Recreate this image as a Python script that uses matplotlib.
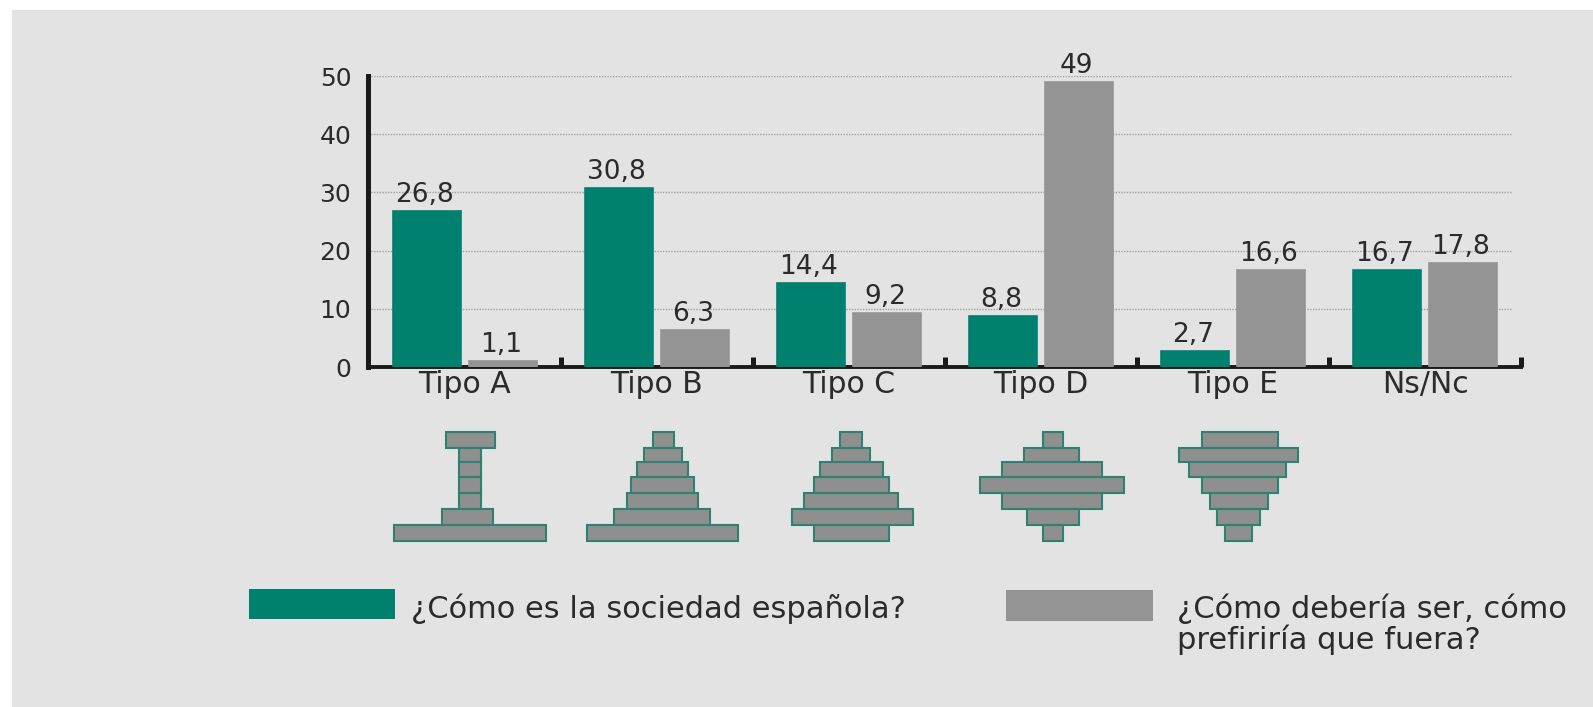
import numpy as np
import matplotlib
matplotlib.use("Agg")
import matplotlib.pyplot as plt
from matplotlib.patches import Rectangle

W, H = 1593, 707

categorias = ["Tipo A", "Tipo B", "Tipo C", "Tipo D", "Tipo E", "Ns/Nc"]
es_sociedad = [26.8, 30.8, 14.4, 8.8, 2.7, 16.7]
deberia_ser = [1.1, 6.3, 9.2, 49, 16.6, 17.8]
ticks_y = [0, 10, 20, 30, 40, 50]
leyenda_1 = "¿Cómo es la sociedad española?"
leyenda_2a = "¿Cómo debería ser, cómo"
leyenda_2b = "prefiriría que fuera?"

# estratos de las pirámides, de arriba abajo: izquierda y derecha en píxeles
piramide_a = [(446, 495), (459, 481), (459, 481), (459, 481), (459, 481), (442, 493), (394, 546)]
piramide_b = [(653, 674), (644, 682), (637, 688), (631, 694), (627, 698), (614, 710), (587, 738)]
piramide_c = [(840, 862), (832, 870), (820, 883), (814, 889), (804, 898), (792, 913), (814, 889)]
piramide_d = [(1043, 1063), (1024, 1079), (1002, 1102), (980, 1124), (1002, 1102), (1027, 1079), (1043, 1063)]
piramide_e = [(1202, 1278), (1179, 1298), (1189, 1286), (1202, 1278), (1210, 1268), (1217, 1260), (1225, 1252)]
cortes_y = [432, 448, 462, 477, 493, 509, 525, 541]

VERDE = "#00806e"
GRIS = "#949494"
FONDO = "#e3e3e3"
TEXTO = "#2b2b2b"
NEGRO = "#1a1a1a"

plt.rcParams["font.family"] = ["DejaVu Sans"]

fig = plt.figure(figsize=(W / 100, H / 100), dpi=100, facecolor="white")

# fondo gris y elementos sueltos en coordenadas de píxel
bg = fig.add_axes([0, 0, 1, 1])
bg.set_xlim(0, W)
bg.set_ylim(H, 0)
bg.axis("off")
bg.add_patch(Rectangle((12, 10), W - 12, H - 10, color=FONDO, lw=0))

# grafico de barras
ax = fig.add_axes([368 / W, 1 - 367 / H, (1521 - 368) / W, (367 - 76) / H])
ax.patch.set_alpha(0)
ax.set_xlim(-0.505, 5.5)
ax.set_ylim(0, 50)

x = np.arange(len(categorias))
ax.bar(x - 0.198, es_sociedad, 0.358, color=VERDE, edgecolor=VERDE, linewidth=1.2, zorder=3)
ax.bar(x + 0.198, deberia_ser, 0.358, color=GRIS, edgecolor=GRIS, linewidth=1.2, zorder=3)


def etiqueta(xpos, valor):
    ax.annotate(str(valor).replace(".", ","), (xpos, valor), xytext=(-1.5, 6.5), textcoords="offset points",
                ha="center", va="baseline", fontsize=19, color=TEXTO, zorder=4)


for i in x:
    etiqueta(i - 0.198, es_sociedad[i])
    etiqueta(i + 0.198, deberia_ser[i])

ax.set_yticks(ticks_y)
ax.set_yticklabels([str(t) for t in ticks_y], fontsize=18, color=TEXTO)
ax.tick_params(axis="y", length=0, pad=12)
ax.set_xticks(x)
ax.set_xticklabels(categorias, fontsize=21.5, color=TEXTO)
ax.tick_params(axis="x", which="major", length=0, pad=2)

# marcas cortas entre grupos, hacia dentro
ax.set_xticks(x + 0.5, minor=True)
ax.tick_params(axis="x", which="minor", direction="in", length=7, width=3.6, color=NEGRO)

ax.hlines(ticks_y[1:], -0.505, 5.45, color="#a0a0a0", linestyle=(0, (1, 1)), linewidth=1.0, zorder=1)

for s in ["top", "right"]:
    ax.spines[s].set_visible(False)
ax.spines["left"].set_linewidth(3.6)
ax.spines["bottom"].set_linewidth(2.8)
ax.spines["left"].set_color(NEGRO)
ax.spines["bottom"].set_color(NEGRO)

# piramides
y0 = np.array(cortes_y[:-1])
alto = np.diff(cortes_y)
for estratos in [piramide_a, piramide_b, piramide_c, piramide_d, piramide_e]:
    izq = np.array([e[0] for e in estratos])
    der = np.array([e[1] for e in estratos])
    bg.barh(y0 + alto / 2, der - izq, height=alto, left=izq,
            color="#8f8f8f", edgecolor="#2f8272", linewidth=1.5)

# leyenda
bg.add_patch(Rectangle((249, 589), 146, 30, color=VERDE, lw=0))
bg.add_patch(Rectangle((1006, 590), 147, 31, color=GRIS, lw=0))
bg.text(411, 618, leyenda_1, fontsize=22, color=TEXTO, va="baseline", ha="left")
bg.text(1177, 618, leyenda_2a, fontsize=22, color=TEXTO, va="baseline", ha="left")
bg.text(1177, 649, leyenda_2b, fontsize=22, color=TEXTO, va="baseline", ha="left")

fig.savefig("out.png", dpi=100, facecolor="white")
